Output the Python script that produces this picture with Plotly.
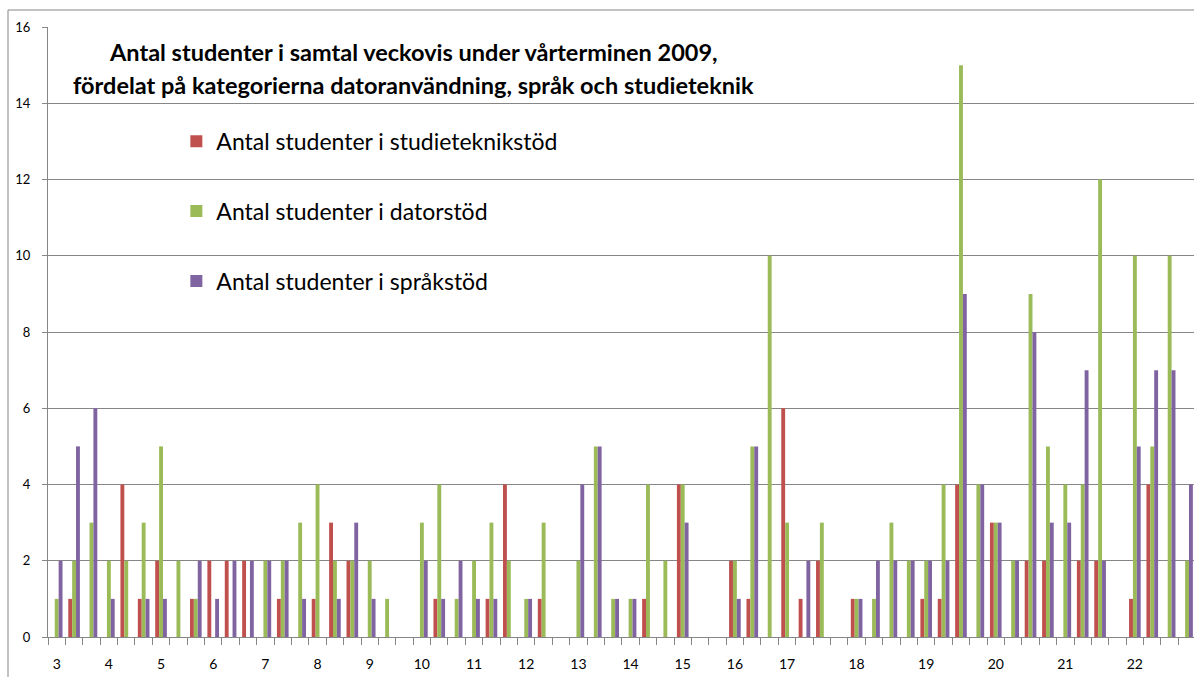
import plotly.graph_objects as go

# Week number for each day (category) on the x axis
days_per_week = {3: 3, 4: 3, 5: 3, 6: 3, 7: 3, 8: 3, 9: 3, 10: 3, 11: 3, 12: 3,
                 13: 3, 14: 3, 15: 3, 16: 3, 17: 4, 18: 4, 19: 4, 20: 4, 21: 4, 22: 4}

studieteknik = [0, 1, 0, 0, 4, 1, 2, 0, 1, 2, 2, 2, 0, 1, 0, 1, 3, 2, 0, 0, 0, 0,
                1, 0, 0, 1, 4, 0, 1, 0, 0, 0, 0, 0, 1, 0, 4, 0, 0, 2, 1, 0, 6, 1,
                2, 0, 1, 0, 0, 0, 1, 1, 4, 0, 3, 0, 2, 2, 0, 2, 2, 0, 1, 4, 0, 0]
dator = [1, 2, 3, 2, 2, 3, 5, 2, 1, 0, 0, 0, 2, 2, 3, 4, 2, 2, 2, 1, 0, 3,
         4, 1, 2, 3, 2, 1, 3, 0, 2, 5, 1, 1, 4, 2, 4, 0, 0, 2, 5, 10, 3, 0,
         3, 0, 1, 1, 3, 2, 2, 4, 15, 4, 3, 2, 9, 5, 4, 4, 12, 0, 10, 5, 10, 2]
sprak = [2, 5, 6, 1, 0, 1, 1, 0, 2, 1, 2, 2, 2, 2, 1, 0, 1, 3, 1, 0, 0, 2,
         1, 2, 1, 1, 0, 1, 0, 0, 4, 5, 1, 1, 0, 0, 3, 0, 0, 1, 5, 0, 0, 2,
         0, 0, 1, 2, 2, 2, 2, 2, 9, 4, 3, 2, 8, 3, 3, 7, 2, 0, 5, 7, 7, 4]

series_names = ["Antal studenter i studieteknikstöd",
                "Antal studenter i datorstöd",
                "Antal studenter i språkstöd"]
colors = ["#C0504D", "#9BBB59", "#8064A2"]

title_lines = ["Antal studenter i samtal veckovis under vårterminen 2009,",
               "fördelat på kategorierna datoranvändning, språk och studieteknik"]

# derive day indices and week tick positions
day_idx = list(range(sum(days_per_week.values())))
tick_pos, tick_txt = [], []
pos = 0
for wk, n in days_per_week.items():
    tick_pos.append(pos)
    tick_txt.append(str(wk))
    pos += n

FONT = "Lato, Carlito, Calibri, sans-serif"
GRID = "#868686"

fig = go.Figure()
for name, vals, col in zip(series_names, [studieteknik, dator, sprak], colors):
    fig.add_trace(go.Bar(x=day_idx, y=vals, name=name, marker_color=col,
                         marker_line_width=0, legendgroup=name))

fig.update_layout(
    width=1194, height=677,
    margin=dict(l=48, r=0, t=27, b=40),
    paper_bgcolor="white", plot_bgcolor="white",
    barmode="group", bargap=0.33, bargroupgap=0,
    font=dict(family=FONT, color="#000000"),
    showlegend=True,
    legend=dict(x=0.112, y=0.848, xanchor="left", yanchor="top",
                bgcolor="rgba(0,0,0,0)", font=dict(size=23, family=FONT),
                traceorder="grouped", tracegroupgap=37, itemclick=False),
)
fig.update_xaxes(range=[-0.5, 65.4], tickmode="array", tickvals=tick_pos,
                 ticktext=tick_txt, ticks="", ticklabelstandoff=14,
                 tickfont=dict(size=14, family=FONT, color="#000000"),
                 showgrid=False, zeroline=False, showline=True,
                 linecolor=GRID, linewidth=1,
                 minor=dict(tickmode="array",
                            tickvals=[i - 0.5 for i in range(len(day_idx) + 1)],
                            ticks="outside", ticklen=7, tickcolor=GRID,
                            showgrid=False))
fig.update_yaxes(range=[0, 16], dtick=2, tick0=0, showgrid=True,
                 gridcolor=GRID, gridwidth=1, zeroline=False,
                 showline=True, linecolor=GRID, linewidth=1,
                 ticks="outside", ticklen=5, tickcolor=GRID,
                 ticklabelstandoff=9,
                 tickfont=dict(size=13, family=FONT, color="#000000"))

for line, ypx in zip(title_lines, [52, 85]):
    fig.add_annotation(text="<b>" + line + "</b>", xref="paper", yref="paper",
                       x=(413 - 48) / 1146, y=(637 - ypx) / 610,
                       xanchor="center", yanchor="middle", showarrow=False,
                       font=dict(size=23.5, family=FONT, color="#000000"))

# outer chart border
fig.add_shape(type="line", xref="paper", yref="paper",
              x0=(8 - 48) / 1146, x1=(8 - 48) / 1146,
              y0=(637 - 10) / 610, y1=(637 - 680) / 610,
              line=dict(color=GRID, width=1))
fig.add_shape(type="line", xref="paper", yref="paper",
              x0=(8 - 48) / 1146, x1=1.01,
              y0=(637 - 10) / 610, y1=(637 - 10) / 610,
              line=dict(color=GRID, width=1))

fig.write_html("out.html", config={"displayModeBar": False},
               post_script="document.body.style.margin='0';document.body.style.overflow='hidden';")
